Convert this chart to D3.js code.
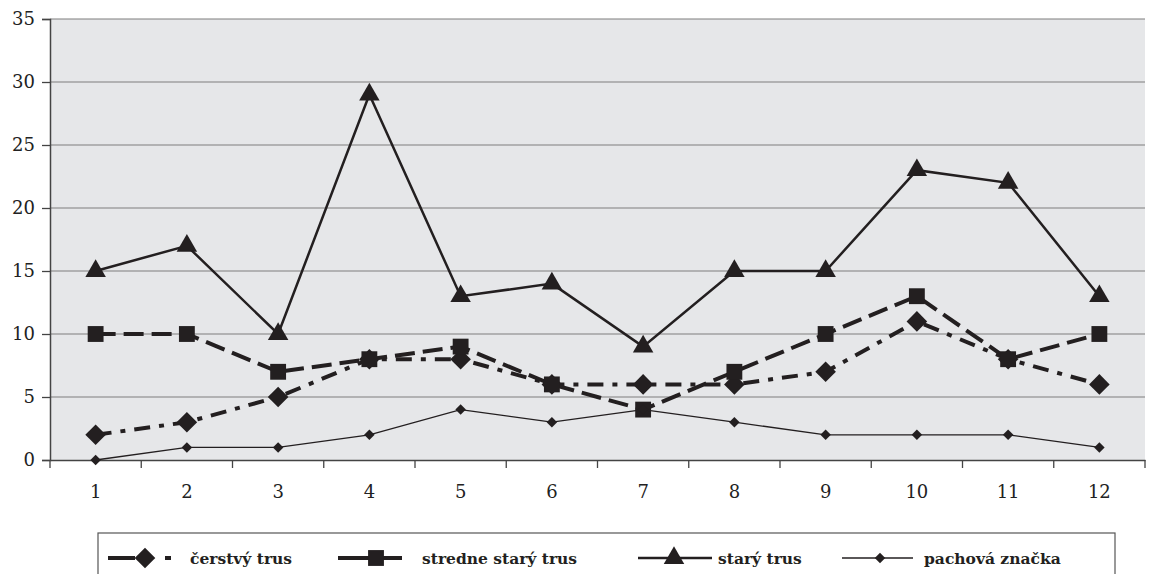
<!DOCTYPE html>
<html>
<head>
<meta charset="utf-8">
<script src="https://cdn.jsdelivr.net/npm/d3@7"></script>
</head>
<body style="margin:0">
<svg id="chart" width="1157" height="574"></svg>
<script>
const months = ["1", "2", "3", "4", "5", "6", "7", "8", "9", "10", "11", "12"];
const cerstvy = [2, 3, 5, 8, 8, 6, 6, 6, 7, 11, 8, 6];
const stredne = [10, 10, 7, 8, 9, 6, 4, 7, 10, 13, 8, 10];
const stary = [15, 17, 10, 29, 13, 14, 9, 15, 15, 23, 22, 13];
const pachova = [0, 1, 1, 2, 4, 3, 4, 3, 2, 2, 2, 1];
const yTicks = [0, 5, 10, 15, 20, 25, 30, 35];

const FONT = '"DejaVu Serif"';

const series = [
  {name: "čerstvý trus", values: cerstvy, width: 4, dash: "16,9,5,9", symbol: d3.symbolDiamond2, size: 270},
  {name: "stredne starý trus", values: stredne, width: 4, dash: "20,8", symbol: d3.symbolSquare2, size: 320},
  {name: "starý trus", values: stary, width: 2.5, dash: null, symbol: d3.symbolTriangle2, size: 300},
  {name: "pachová značka", values: pachova, width: 1.3, dash: null, symbol: d3.symbolDiamond2, size: 70}
];

const W = 1157, H = 574;
const margin = {top: 19, right: 12, bottom: 114, left: 50};
const width = W - margin.left - margin.right;
const height = H - margin.top - margin.bottom;

const svg = d3.select("#chart");
const g = svg.append("g").attr("transform", `translate(${margin.left},${margin.top})`);

const x = d3.scaleBand().domain(months).range([0, width]);
const y = d3.scaleLinear().domain([0, 35]).range([height, 0]);

// plot background
g.append("rect").attr("width", width).attr("height", height).attr("fill", "#e6e7e9");

// gridlines
g.append("g").selectAll("line").data(yTicks.filter(d => d > 0)).join("line")
  .attr("x1", 0).attr("x2", width)
  .attr("y1", d => y(d)).attr("y2", d => y(d))
  .attr("stroke", "#7f7f7f").attr("stroke-width", 1.2);

// y axis
const yAxis = g.append("g")
  .call(d3.axisLeft(y).tickValues(yTicks).tickSize(8).tickPadding(7));
yAxis.select(".domain").attr("stroke", "#444").attr("stroke-width", 1.5);
yAxis.selectAll(".tick line").attr("stroke", "#444").attr("stroke-width", 1.3);
yAxis.selectAll("text").attr("fill", "#222").attr("font-size", 18)
  .style("font-family", FONT);

// x axis
const xAxis = g.append("g").attr("transform", `translate(0,${height})`)
  .call(d3.axisBottom(x).tickSize(0).tickPadding(25));
xAxis.select(".domain").attr("stroke", "#444").attr("stroke-width", 1.5);
xAxis.selectAll("text").attr("fill", "#222").attr("font-size", 18)
  .style("font-family", FONT);
g.append("g").selectAll("line").data(d3.range(months.length + 1)).join("line")
  .attr("x1", i => i * x.bandwidth()).attr("x2", i => i * x.bandwidth())
  .attr("y1", height).attr("y2", height + 8)
  .attr("stroke", "#444").attr("stroke-width", 1.3);

// lines
const line = d3.line().x((d, i) => x(months[i]) + x.bandwidth() / 2).y(d => y(d));
series.forEach(s => {
  g.append("path").datum(s.values)
    .attr("d", line)
    .attr("fill", "none")
    .attr("stroke", "#231f20")
    .attr("stroke-width", s.width)
    .attr("stroke-dasharray", s.dash);
  g.append("g").selectAll("path").data(s.values).join("path")
    .attr("transform", (d, i) => `translate(${x(months[i]) + x.bandwidth() / 2},${y(d)})`)
    .attr("d", d3.symbol().type(s.symbol).size(s.size))
    .attr("fill", "#231f20");
});

// legend
const lg = svg.append("g").attr("transform", "translate(98,533)");
lg.append("rect").attr("width", 1017).attr("height", 50)
  .attr("fill", "#fff").attr("stroke", "#555").attr("stroke-width", 1.2);
const legendX = [10, 240, 540, 744];   // start of the symbol line
const lineLen = [64, 64, 74, 71];
const markX = [37, 38, 36, 38];
const textX = [92, 324, 620, 826];
series.forEach((s, i) => {
  const item = lg.append("g").attr("transform", `translate(${legendX[i]},25)`);
  item.append("line").attr("x1", 0).attr("x2", lineLen[i]).attr("y1", 0).attr("y2", 0)
    .attr("stroke", "#231f20").attr("stroke-width", s.width)
    .attr("stroke-dasharray", i === 0 ? "27,30,6,100" : null);
  item.append("path").attr("transform", `translate(${markX[i]},0)`)
    .attr("d", d3.symbol().type(s.symbol).size(s.size)).attr("fill", "#231f20");
  lg.append("text").attr("x", textX[i]).attr("y", 31)
    .attr("font-size", 15.5).attr("font-weight", "bold").attr("fill", "#231f20")
    .style("font-family", FONT)
    .text(s.name);
});
</script>
</body>
</html>
